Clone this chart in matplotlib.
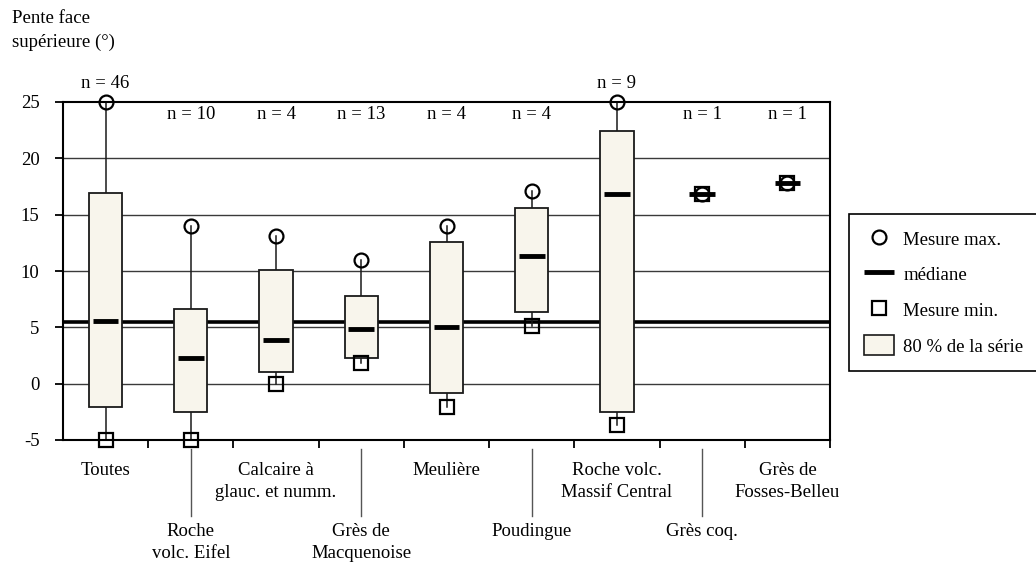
import matplotlib
matplotlib.use("Agg")
import matplotlib.pyplot as plt
import matplotlib.transforms as mtransforms
from matplotlib.lines import Line2D
from matplotlib.patches import Patch

plt.rcParams['font.family'] = ['Liberation Serif', 'DejaVu Serif']
plt.rcParams['font.size'] = 13.5

categories = ["Toutes", "Roche\nvolc. Eifel", "Calcaire à\nglauc. et numm.",
              "Grès de\nMacquenoise", "Meulière", "Poudingue",
              "Roche volc.\nMassif Central", "Grès coq.", "Grès de\nFosses-Belleu"]
n_values = [46, 10, 4, 13, 4, 4, 9, 1, 1]
max_vals = [25, 14, 13.1, 11, 14, 17.1, 25, 16.8, 17.8]
p90_vals = [16.9, 6.6, 10.1, 7.8, 12.6, 15.6, 22.4, 16.8, 17.8]
medians = [5.55, 2.3, 3.9, 4.85, 5.0, 11.35, 16.8, 16.8, 17.8]
p10_vals = [-2.1, -2.5, 1.05, 2.3, -0.85, 6.4, -2.55, 16.8, 17.8]
min_vals = [-5, -5, 0, 1.8, -2.05, 5.1, -3.7, 16.8, 17.8]
overall_median = 5.45
y_ticks = [-5, 0, 5, 10, 15, 20, 25]

box_color = "#f8f5ec"
edge = "#1a1a1a"

fig = plt.figure(figsize=(10.36, 5.67), dpi=100)
ax = fig.add_axes([63/1036, 1 - 440/567, 767/1036, 338/567])

x = list(range(1, len(categories) + 1))

# grid + overall median line
for yv in y_ticks[1:-1]:
    ax.axhline(yv, color="#3a3a3a", lw=1, zorder=1)
ax.axhline(overall_median, color="black", lw=2.6, zorder=1.5)

box_w = 0.39
for xi, mx, hi, md, lo, mn in zip(x, max_vals, p90_vals, medians, p10_vals, min_vals):
    ax.plot([xi, xi], [hi, mx], color=edge, lw=1.1, zorder=2)
    ax.plot([xi, xi], [mn, lo], color=edge, lw=1.1, zorder=2)
    if hi > lo:
        ax.bar(xi, hi - lo, bottom=lo, width=box_w, color=box_color,
               edgecolor=edge, linewidth=1.3, zorder=3)
    ax.plot([xi - 0.15, xi + 0.15], [md, md], color="black", lw=3.5,
            solid_capstyle="butt", zorder=4)
    ax.plot(xi, mx, marker="o", ms=10, mfc="none", mec="black", mew=1.6,
            zorder=5, clip_on=False)
    ax.plot(xi, mn, marker="s", ms=9.5, mfc="none", mec="black", mew=1.6,
            zorder=5, clip_on=False)

# n labels
for xi, n, mx in zip(x, n_values, max_vals):
    ypos = 26.6 if mx >= 24 else 23.9
    ax.text(xi, ypos, f"n = {n}", ha="center", va="center")

ax.set_xlim(0.5, len(categories) + 0.5)
ax.set_ylim(-5, 25)
ax.set_yticks(y_ticks)
ax.set_yticklabels([str(v) for v in y_ticks])
ax.set_xticks([i + 0.5 for i in x])
ax.set_xticklabels([])
ax.tick_params(axis="y", direction="out", length=6, width=1.3, pad=11)
ax.tick_params(axis="x", direction="out", length=6, width=1.3)
for sp in ax.spines.values():
    sp.set_linewidth(1.5)
    sp.set_color("black")

# category labels in two staggered rows
trans = mtransforms.blended_transform_factory(ax.transData, ax.transAxes)
for i, (xi, lab) in enumerate(zip(x, categories)):
    if i % 2 == 0:
        ax.annotate(lab, xy=(xi, 0), xycoords=trans, xytext=(0, -16),
                    textcoords="offset points", ha="center", va="top",
                    linespacing=1.35, annotation_clip=False)
    else:
        ax.plot([xi, xi], [-0.027, -0.225], transform=trans, color="#555555",
                lw=1, clip_on=False)
        ax.annotate(lab, xy=(xi, 0), xycoords=trans, xytext=(0, -60),
                    textcoords="offset points", ha="center", va="top",
                    linespacing=1.35, annotation_clip=False)

fig.text(12/1036, 1 - 10/567, "Pente face\nsupérieure (°)", ha="left", va="top",
         linespacing=1.5)

handles = [
    Line2D([], [], marker="o", ms=10, mfc="none", mec="black", mew=1.6, ls="none"),
    Line2D([], [], color="black", lw=3.5, solid_capstyle="butt"),
    Line2D([], [], marker="s", ms=9.5, mfc="none", mec="black", mew=1.6, ls="none"),
    Patch(facecolor=box_color, edgecolor=edge, linewidth=1.2),
]
labels = ["Mesure max.", "médiane", "Mesure min.", "80 % de la série"]
leg = fig.legend(handles, labels, loc="center left",
                 bbox_to_anchor=(849/1036, 1 - 292/567), frameon=True,
                 fancybox=False, edgecolor="black", framealpha=1,
                 handlelength=1.6, handleheight=1.3, labelspacing=0.8,
                 handletextpad=0.5, borderpad=0.8, borderaxespad=0)
leg.get_frame().set_linewidth(1.2)

fig.savefig("out.png", dpi=100)
